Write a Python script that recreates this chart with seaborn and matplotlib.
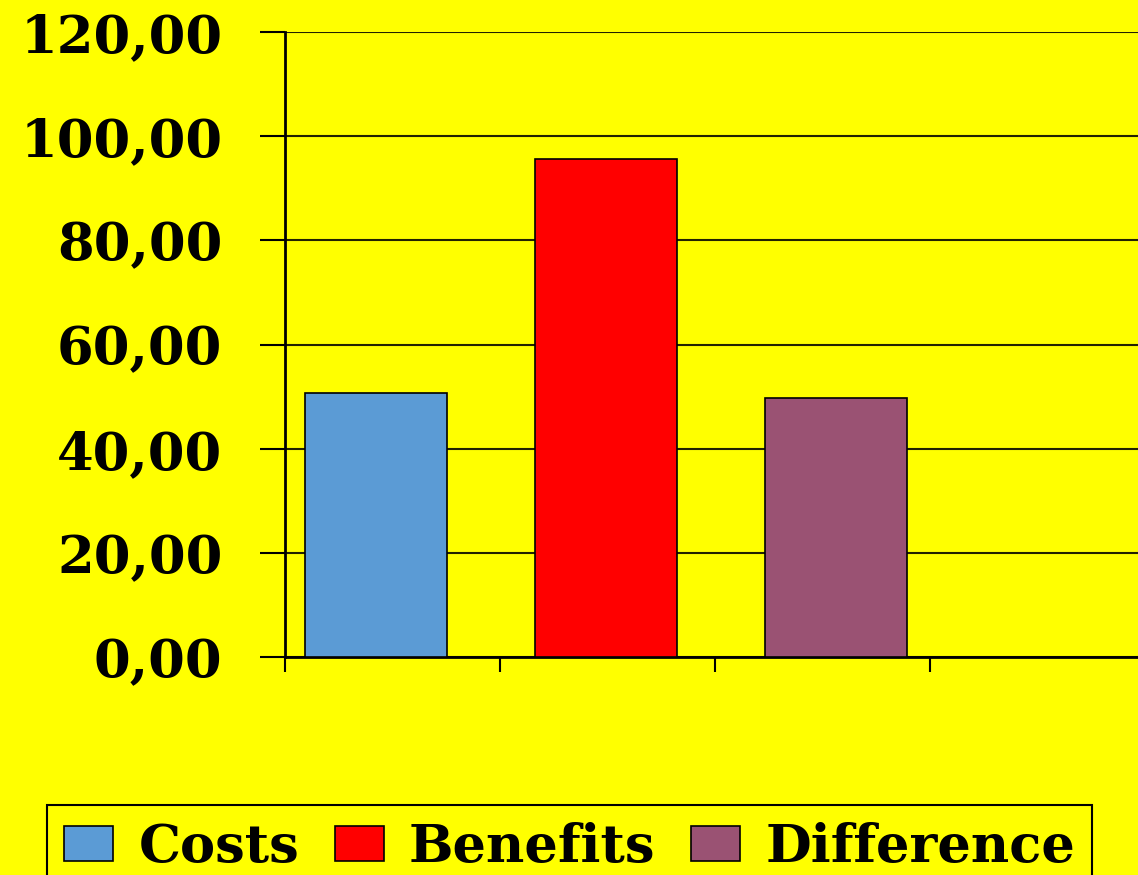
import numpy as np
import pandas as pd
import matplotlib
matplotlib.use("Agg")
import matplotlib.pyplot as plt
import seaborn as sns
from matplotlib.patches import Patch
from matplotlib.ticker import FuncFormatter

categories = ["Costs", "Benefits", "Difference"]
values = [50.7, 95.6, 49.7]
colors = ["#5B9BD5", "#FF0000", "#9A5273"]
yticks = [0, 20, 40, 60, 80, 100, 120]

sns.set_theme(style="white")
plt.rcParams["font.family"] = ["DejaVu Serif"]
plt.rcParams["font.weight"] = "bold"
plt.rcParams["text.color"] = "black"
plt.rcParams["ytick.color"] = "black"
plt.rcParams["xtick.color"] = "black"

FS = 38
BG = "#FFFF00"
fig = plt.figure(figsize=(11.38, 8.75), dpi=100, facecolor=BG)
ax = fig.add_axes([285 / 1138, 1 - 657 / 875, 860 / 1138, 625 / 875])
ax.set_facecolor(BG)

df = pd.DataFrame({"cat": categories, "val": values})
sns.barplot(data=df, x="cat", y="val", hue="cat", palette=colors, legend=False,
            width=0.62, edgecolor="black", linewidth=1.2, saturation=1, ax=ax, zorder=3)

xmin, xmax = -0.396, 3.343
ax.set_xlim(xmin, xmax)
ax.set_xticks(np.linspace(xmin, xmax, 5))
ax.set_xticklabels([])
ax.set_ylim(0, 120)
ax.set_yticks(yticks)
ax.yaxis.set_major_formatter(FuncFormatter(lambda v, p: f"{v:.2f}".replace(".", ",")))
ax.set_xlabel("")
ax.set_ylabel("")

ax.grid(False)
ax.yaxis.grid(True, color="#222200", linewidth=1.5, zorder=0)
ax.set_axisbelow(True)
for s in ["top", "right"]:
    ax.spines[s].set_visible(False)
for s in ["left", "bottom"]:
    ax.spines[s].set_visible(True)
    ax.spines[s].set_color("black")
    ax.spines[s].set_linewidth(2)

ax.tick_params(axis="y", which="major", direction="out", length=18, width=1.5,
               color="black", pad=27, labelsize=FS, labelcolor="black", left=True)
ax.tick_params(axis="x", which="major", direction="out", length=11, width=1.5,
               color="black", bottom=True)
for lab in ax.get_yticklabels():
    lab.set_fontweight("bold")
    lab.set_color("black")

handles = [Patch(facecolor=c, edgecolor="black", linewidth=1.2, label=l)
           for c, l in zip(colors, categories)]
leg = fig.legend(handles=handles, loc="upper left", ncol=3,
                 bbox_to_anchor=(47 / 1138, 1 - 805 / 875),
                 prop={"family": ["DejaVu Serif"], "weight": "bold", "size": FS},
                 frameon=True, fancybox=False, facecolor=BG, edgecolor="black",
                 handlelength=0.92, handleheight=0.65, handletextpad=0.48,
                 columnspacing=0.68, borderpad=0.33, borderaxespad=0)
leg.get_frame().set_linewidth(1.5)
leg.get_frame().set_alpha(1)
for t in leg.get_texts():
    t.set_color("black")

fig.savefig("out.png", dpi=100, facecolor=BG)
